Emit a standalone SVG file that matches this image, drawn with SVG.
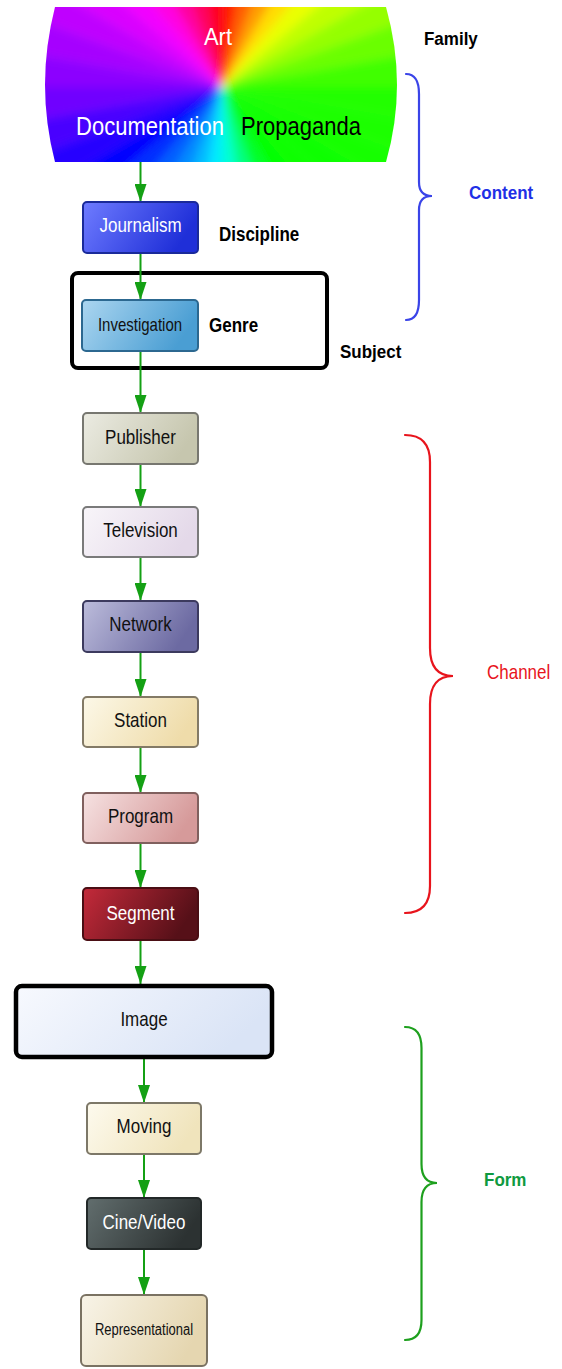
<svg xmlns="http://www.w3.org/2000/svg" width="562" height="1369" viewBox="0 0 562 1369">
  <style>
    .lbl { font-family: "Liberation Sans", Arial, sans-serif; text-anchor: middle; }
    .side { font-family: "Liberation Sans", Arial, sans-serif; font-size: 17px; }
    .bold { font-weight: bold; }
    .box { stroke-width: 2; }
    .edge { stroke: #14a014; stroke-width: 2; fill: none; marker-end: url(#arrow); }
    .brace { fill: none; stroke-width: 2.2; stroke-linecap: round; }
  </style>
  <defs>
    <marker id="arrow" viewBox="0 0 18 12" refX="18" refY="6" markerWidth="18" markerHeight="12" markerUnits="userSpaceOnUse" orient="auto">
      <path d="M0,0 L18,6 L0,12 Z" fill="#14a014"/>
    </marker>
    <clipPath id="familyClip">
      <path d="M55,7 L386,7 Q408,85 386,162 L55,162 Q35,85 55,7 Z"/>
    </clipPath>
    <filter id="soft" x="-20%" y="-20%" width="140%" height="140%">
      <feGaussianBlur stdDeviation="5"/>
    </filter>
    <linearGradient id="gJournalism" x1="0" y1="0" x2="1" y2="0.3"><stop offset="0" stop-color="#6f7cff"/><stop offset="1" stop-color="#1f2fd8"/></linearGradient>
    <linearGradient id="gInvestigation" x1="0" y1="0" x2="1" y2="0.3"><stop offset="0" stop-color="#acd6f0"/><stop offset="1" stop-color="#4a9ed3"/></linearGradient>
    <linearGradient id="gPublisher" x1="0" y1="0" x2="1" y2="0.3"><stop offset="0" stop-color="#ebebe2"/><stop offset="1" stop-color="#c6c6ae"/></linearGradient>
    <linearGradient id="gTelevision" x1="0" y1="0" x2="1" y2="0.3"><stop offset="0" stop-color="#f8f5f9"/><stop offset="1" stop-color="#e4d9e9"/></linearGradient>
    <linearGradient id="gNetwork" x1="0" y1="0" x2="1" y2="0.3"><stop offset="0" stop-color="#bcbcdb"/><stop offset="1" stop-color="#6c6aa2"/></linearGradient>
    <linearGradient id="gStation" x1="0" y1="0" x2="1" y2="0.3"><stop offset="0" stop-color="#fcf8e8"/><stop offset="1" stop-color="#efdcaa"/></linearGradient>
    <linearGradient id="gProgram" x1="0" y1="0" x2="1" y2="0.3"><stop offset="0" stop-color="#f6e2e2"/><stop offset="1" stop-color="#d69a9a"/></linearGradient>
    <linearGradient id="gSegment" x1="0" y1="0" x2="1" y2="0.3"><stop offset="0" stop-color="#c42a3a"/><stop offset="1" stop-color="#561018"/></linearGradient>
    <linearGradient id="gImage" x1="0" y1="0" x2="1" y2="0.3"><stop offset="0" stop-color="#f7f9fe"/><stop offset="1" stop-color="#dae4f6"/></linearGradient>
    <linearGradient id="gMoving" x1="0" y1="0" x2="1" y2="0.3"><stop offset="0" stop-color="#fdfaee"/><stop offset="1" stop-color="#f0e4bc"/></linearGradient>
    <linearGradient id="gCine" x1="0" y1="0" x2="1" y2="0.3"><stop offset="0" stop-color="#626e6e"/><stop offset="1" stop-color="#2c3232"/></linearGradient>
    <linearGradient id="gRep" x1="0" y1="0" x2="1" y2="0.3"><stop offset="0" stop-color="#f8f4e8"/><stop offset="1" stop-color="#e5d6b0"/></linearGradient>
  </defs>

  <rect width="562" height="1369" fill="#ffffff"/>

  <!-- Family: colour-wheel panel -->
  <g id="family">
    <g clip-path="url(#familyClip)">
      <g filter="url(#soft)">
        <polygon points="222,87 222,-173 267.1,-169" fill="hsl(7,100%,50%)"/>
        <polygon points="222,87 267.1,-169 310.9,-157.3" fill="hsl(22,100%,50%)"/>
        <polygon points="222,87 310.9,-157.3 352,-138.2" fill="hsl(37,100%,50%)"/>
        <polygon points="222,87 352,-138.2 389.1,-112.2" fill="hsl(52,100%,50%)"/>
        <polygon points="222,87 389.1,-112.2 421.2,-80.1" fill="hsl(65,100%,50%)"/>
        <polygon points="222,87 421.2,-80.1 447.2,-43" fill="hsl(75,100%,50%)"/>
        <polygon points="222,87 447.2,-43 466.3,-1.9" fill="hsl(85,100%,50%)"/>
        <polygon points="222,87 466.3,-1.9 478,41.9" fill="hsl(95,100%,50%)"/>
        <polygon points="222,87 478,41.9 482,87" fill="hsl(105,100%,50%)"/>
        <polygon points="222,87 482,87 478,132.1" fill="hsl(112,100%,50%)"/>
        <polygon points="222,87 478,132.1 466.3,175.9" fill="hsl(113,100%,50%)"/>
        <polygon points="222,87 466.3,175.9 447.2,217" fill="hsl(115,100%,50%)"/>
        <polygon points="222,87 447.2,217 421.2,254.1" fill="hsl(117,100%,50%)"/>
        <polygon points="222,87 421.2,254.1 389.1,286.2" fill="hsl(118,100%,50%)"/>
        <polygon points="222,87 389.1,286.2 352,312.2" fill="hsl(119,100%,50%)"/>
        <polygon points="222,87 352,312.2 310.9,331.3" fill="hsl(130,100%,50%)"/>
        <polygon points="222,87 310.9,331.3 267.1,343" fill="hsl(150,100%,50%)"/>
        <polygon points="222,87 267.1,343 222,347" fill="hsl(170,100%,50%)"/>
        <polygon points="222,87 222,347 176.9,343" fill="hsl(185,100%,50%)"/>
        <polygon points="222,87 176.9,343 133.1,331.3" fill="hsl(196,100%,50%)"/>
        <polygon points="222,87 133.1,331.3 92,312.2" fill="hsl(207,100%,50%)"/>
        <polygon points="222,87 92,312.2 54.9,286.2" fill="hsl(218,100%,50%)"/>
        <polygon points="222,87 54.9,286.2 22.8,254.1" fill="hsl(229,100%,50%)"/>
        <polygon points="222,87 22.8,254.1 -3.2,217" fill="hsl(240,100%,50%)"/>
        <polygon points="222,87 -3.2,217 -22.3,175.9" fill="hsl(249,100%,50%)"/>
        <polygon points="222,87 -22.3,175.9 -34,132.1" fill="hsl(257,100%,50%)"/>
        <polygon points="222,87 -34,132.1 -38,87" fill="hsl(266,100%,50%)"/>
        <polygon points="222,87 -38,87 -34,41.9" fill="hsl(273,100%,50%)"/>
        <polygon points="222,87 -34,41.9 -22.3,-1.9" fill="hsl(279,100%,50%)"/>
        <polygon points="222,87 -22.3,-1.9 -3.2,-43" fill="hsl(285,100%,50%)"/>
        <polygon points="222,87 -3.2,-43 22.8,-80.1" fill="hsl(291,100%,50%)"/>
        <polygon points="222,87 22.8,-80.1 54.9,-112.2" fill="hsl(297,100%,50%)"/>
        <polygon points="222,87 54.9,-112.2 92,-138.2" fill="hsl(307,100%,50%)"/>
        <polygon points="222,87 92,-138.2 133.1,-157.3" fill="hsl(322,100%,50%)"/>
        <polygon points="222,87 133.1,-157.3 176.9,-169" fill="hsl(337,100%,50%)"/>
        <polygon points="222,87 176.9,-169 222,-173" fill="hsl(352,100%,50%)"/>
      </g>
    </g>
    <text class="lbl" transform="matrix(1 0 0 1.1 218 45)" font-size="22" fill="#ffffff">Art</text>
    <text class="lbl" transform="matrix(1 0 0 1.15 150 135)" font-size="22" fill="#ffffff">Documentation</text>
    <text class="lbl" transform="matrix(1 0 0 1.15 301 135)" font-size="22" fill="#000000">Propaganda</text>
  </g>

  <!-- Subject frame (drawn beneath the connectors) -->
  <g id="subject">
    <rect x="72" y="273" width="255" height="95" rx="6" fill="#ffffff" stroke="#000000" stroke-width="4"/>
    <text class="side bold" transform="matrix(1 0 0 1.12 340 358)">Subject</text>
  </g>

  <!-- Connectors -->
  <g id="connectors">
    <line class="edge" x1="140.5" y1="162" x2="140.5" y2="202"/>
    <line class="edge" x1="140.5" y1="253" x2="140.5" y2="300"/>
    <line class="edge" x1="140.5" y1="351" x2="140.5" y2="413"/>
    <line class="edge" x1="140.5" y1="464" x2="140.5" y2="507"/>
    <line class="edge" x1="140.5" y1="557" x2="140.5" y2="601"/>
    <line class="edge" x1="140.5" y1="652" x2="140.5" y2="697"/>
    <line class="edge" x1="140.5" y1="747" x2="140.5" y2="793"/>
    <line class="edge" x1="140.5" y1="843" x2="140.5" y2="888"/>
    <line class="edge" x1="140.5" y1="940" x2="140.5" y2="984"/>
    <line class="edge" x1="144" y1="1057" x2="144" y2="1103"/>
    <line class="edge" x1="144" y1="1154" x2="144" y2="1198"/>
    <line class="edge" x1="144" y1="1249" x2="144" y2="1295"/>
  </g>

  <g id="journalism">
    <rect class="box" x="83" y="202" width="115" height="51" rx="4" fill="url(#gJournalism)" stroke="#1a2a9a"/>
    <text class="lbl" transform="matrix(1 0 0 1.2 140.5 232)" font-size="17" fill="#ffffff">Journalism</text>
  </g>
  <g id="investigation">
    <rect class="box" x="82" y="300" width="116" height="51" rx="4" fill="url(#gInvestigation)" stroke="#2c6890"/>
    <text class="lbl" transform="matrix(1 0 0 1.2 140 331)" font-size="15" fill="#111111">Investigation</text>
  </g>
  <g id="publisher">
    <rect class="box" x="83" y="413" width="115" height="51" rx="4" fill="url(#gPublisher)" stroke="#777770"/>
    <text class="lbl" transform="matrix(1 0 0 1.2 140.5 443.5)" font-size="17" fill="#111111">Publisher</text>
  </g>
  <g id="television">
    <rect class="box" x="83" y="507" width="115" height="50" rx="4" fill="url(#gTelevision)" stroke="#7a7a7a"/>
    <text class="lbl" transform="matrix(1 0 0 1.2 140.5 537)" font-size="17" fill="#111111">Television</text>
  </g>
  <g id="network">
    <rect class="box" x="83" y="601" width="115" height="51" rx="4" fill="url(#gNetwork)" stroke="#3c3a5e"/>
    <text class="lbl" transform="matrix(1 0 0 1.2 140.5 631)" font-size="17" fill="#111111">Network</text>
  </g>
  <g id="station">
    <rect class="box" x="83" y="697" width="115" height="50" rx="4" fill="url(#gStation)" stroke="#837a66"/>
    <text class="lbl" transform="matrix(1 0 0 1.2 140.5 727)" font-size="17" fill="#111111">Station</text>
  </g>
  <g id="program">
    <rect class="box" x="83" y="793" width="115" height="50" rx="4" fill="url(#gProgram)" stroke="#80605e"/>
    <text class="lbl" transform="matrix(1 0 0 1.2 140.5 823)" font-size="17" fill="#111111">Program</text>
  </g>
  <g id="segment">
    <rect class="box" x="83" y="888" width="115" height="52" rx="4" fill="url(#gSegment)" stroke="#4a0e14"/>
    <text class="lbl" transform="matrix(1 0 0 1.2 140.5 919.5)" font-size="17" fill="#ffffff">Segment</text>
  </g>
  <g id="image">
    <rect x="16" y="986" width="256" height="71" rx="6" fill="url(#gImage)" stroke="#000000" stroke-width="4.5"/>
    <text class="lbl" transform="matrix(1 0 0 1.2 144 1026)" font-size="17" fill="#111111">Image</text>
  </g>
  <g id="moving">
    <rect class="box" x="87" y="1103" width="114" height="51" rx="4" fill="url(#gMoving)" stroke="#7d7868"/>
    <text class="lbl" transform="matrix(1 0 0 1.2 144 1133)" font-size="17" fill="#111111">Moving</text>
  </g>
  <g id="cine-video">
    <rect class="box" x="87" y="1198" width="114" height="51" rx="4" fill="url(#gCine)" stroke="#222828"/>
    <text class="lbl" transform="matrix(1 0 0 1.2 144 1229)" font-size="17" fill="#ffffff">Cine/Video</text>
  </g>
  <g id="representational">
    <rect class="box" x="81" y="1295" width="126" height="71" rx="5" fill="url(#gRep)" stroke="#7a7262"/>
    <text class="lbl" transform="matrix(1 0 0 1.2 144 1335)" font-size="13" fill="#111111">Representational</text>
  </g>

  <!-- Level labels -->
  <g id="level-labels">
    <text class="side bold" transform="matrix(1 0 0 1.12 424 45)" fill="#000000">Family</text>
    <text class="side bold" transform="matrix(1 0 0 1.15 219 241)" fill="#000000">Discipline</text>
    <text class="side bold" transform="matrix(1 0 0 1.15 209 332)" fill="#000000">Genre</text>
  </g>

  <!-- Braces -->
  <g id="content">
    <path class="brace" stroke="#3a44e8" d="M406,74 Q419,74 419,94 L419,182 Q419,196 432,196 Q419,196 419,210 L419,300 Q419,320 406,320"/>
    <text class="side bold" transform="matrix(1 0 0 1.1 469 198.5)" fill="#1f30e6">Content</text>
  </g>
  <g id="channel">
    <path class="brace" stroke="#e8141c" d="M405,435 Q430,435 430,462 L430,648 Q430,676 453,676 Q430,676 430,704 L430,886 Q430,913 405,913"/>
    <text class="side" transform="matrix(1 0 0 1.2 487 678.5)" fill="#e8141c">Channel</text>
  </g>
  <g id="form">
    <path class="brace" stroke="#1ea01e" d="M405,1027 Q421.5,1027 421.5,1048 L421.5,1164 Q421.5,1183 437,1183 Q421.5,1183 421.5,1202 L421.5,1320 Q421.5,1340 405,1340"/>
    <text class="side bold" transform="matrix(1 0 0 1.1 484 1186)" fill="#0f9a40">Form</text>
  </g>
</svg>
